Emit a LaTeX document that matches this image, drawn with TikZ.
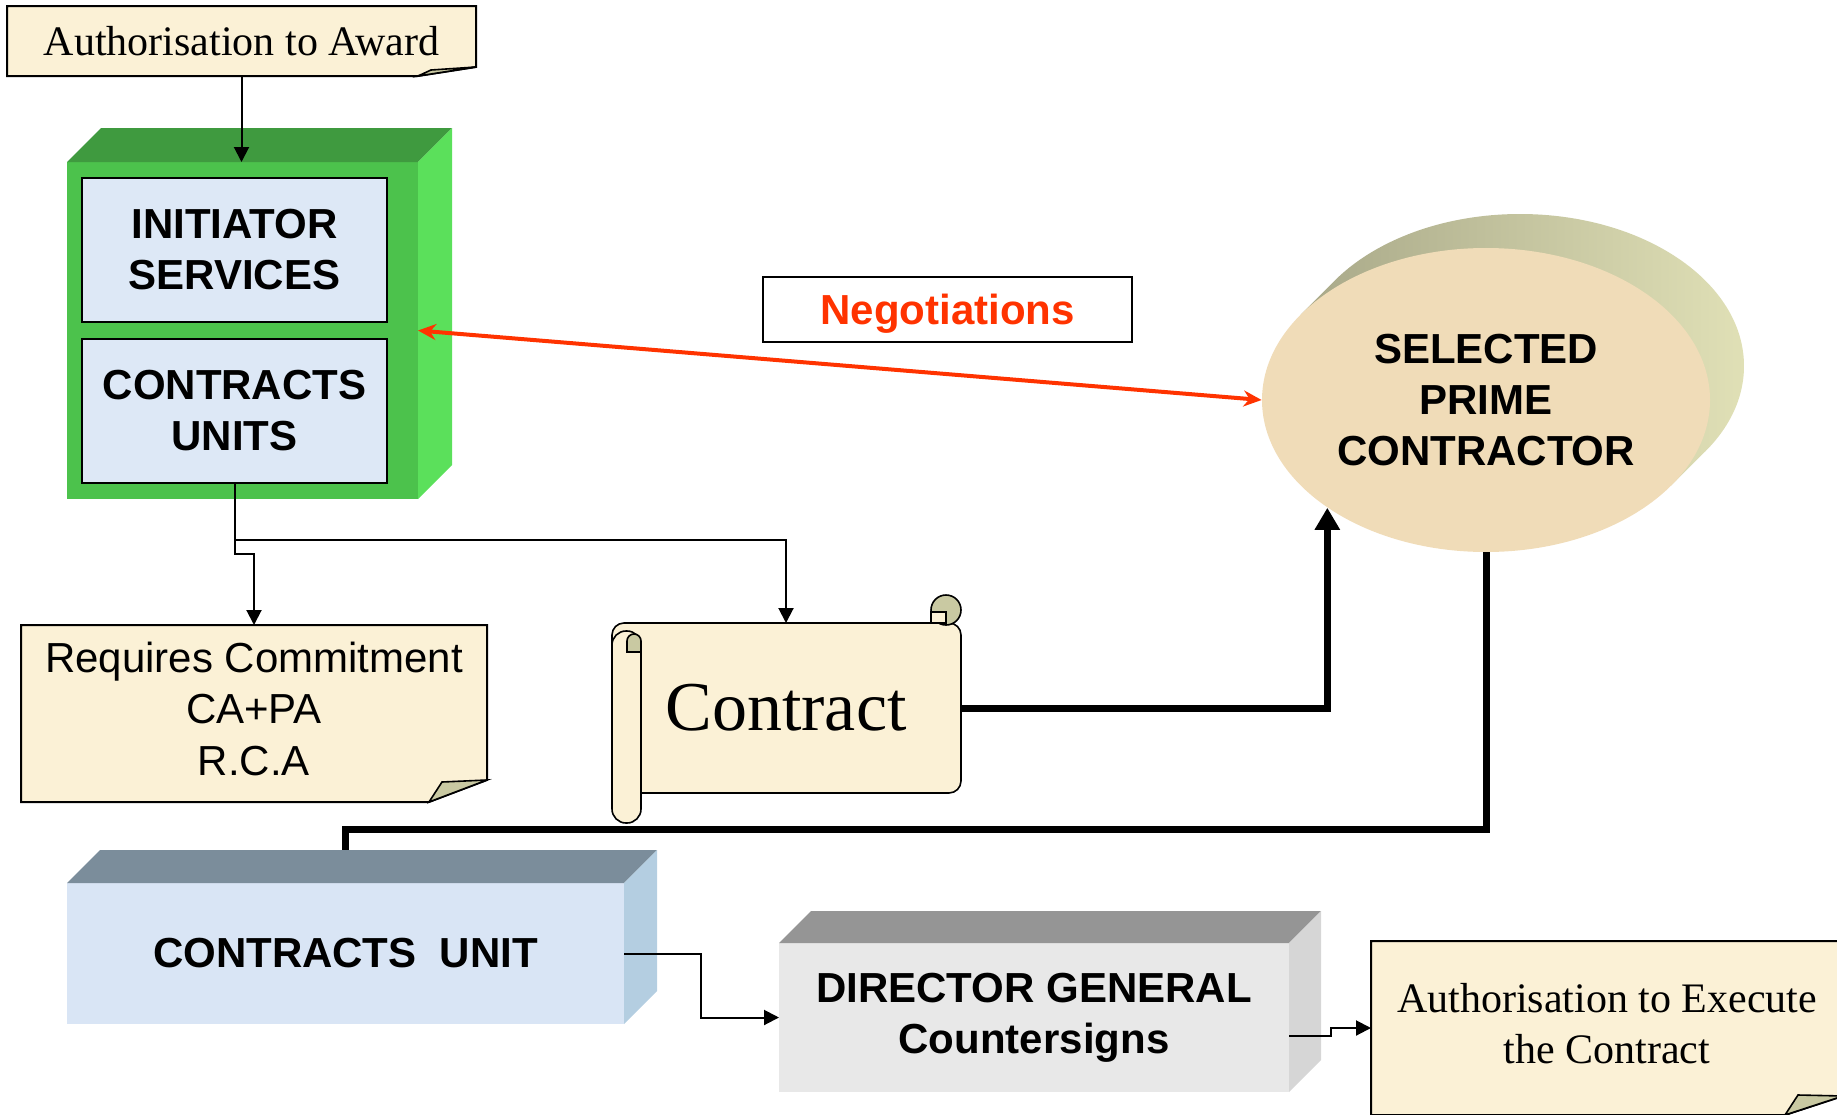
\documentclass[tikz,border=0pt]{standalone}
\usepackage{fontspec}
\setmainfont{Liberation Serif}
\setsansfont{Liberation Sans}
\usetikzlibrary{arrows.meta,shapes.geometric,backgrounds}

% faces of a 3D block: node, depth, top colour, side colour
\newcommand{\blockfaces}[4]{%
  \fill[#3] (#1.north west) -- ++(#2,#2) -- ([shift={(#2,#2)}]#1.north east) -- (#1.north east) -- cycle;
  \fill[#4] (#1.north east) -- ++(#2,#2) -- ([shift={(#2,#2)}]#1.south east) -- (#1.south east) -- cycle;
}

% sheet with a folded corner behind a node: node, fold height, curl height
\newcommand{\notepaper}[3]{%
  \begin{pgfonlayer}{background}
    \filldraw[paper fill] (#1.north west) -- (#1.north east) -- ([yshift=#2]#1.south east)
      -- ([xshift=-29pt]#1.south east) -- (#1.south west) -- cycle;
    \filldraw[fold fill] ([xshift=-29pt]#1.south east) -- ([xshift=-22.5pt,yshift=#3]#1.south east)
      -- ([yshift=#2]#1.south east) -- cycle;
  \end{pgfonlayer}}

% centred lines, lifted a little inside their box
\newcommand{\liftedlines}[2]{\raisebox{#1}{\begin{tabular}{@{}c@{}}#2\end{tabular}}}

\begin{document}
\begin{tikzpicture}[x=0.5pt,y=-0.5pt,line join=miter]
  % Colors
  \definecolor{papercol}{HTML}{FBF1D6}
  \definecolor{foldcol}{HTML}{C9C9A2}
  \definecolor{blueface}{HTML}{DDE8F6}
  \definecolor{greenfront}{HTML}{4CC24C}
  \definecolor{greentop}{HTML}{3F9A3F}
  \definecolor{greenside}{HTML}{5BE05B}
  \definecolor{primefront}{HTML}{F0DCB8}
  \definecolor{olivea}{HTML}{A8A888}
  \definecolor{oliveb}{HTML}{929274}
  \definecolor{olivec}{HTML}{E0E0B6}
  \definecolor{unitfront}{HTML}{D9E5F5}
  \definecolor{unittop}{HTML}{7B8D9B}
  \definecolor{unitside}{HTML}{B4CEE1}
  \definecolor{dgfront}{HTML}{E8E8E8}
  \definecolor{dgtop}{HTML}{959595}
  \definecolor{dgside}{HTML}{D6D6D6}
  \definecolor{negred}{HTML}{FF3300}

  % Styles
  \tikzstyle{plain box}=[rectangle,inner sep=0pt,outer sep=0pt,align=center]
  \tikzstyle{bold label}=[font=\sffamily\bfseries\fontsize{21}{25.5}\selectfont]
  \tikzstyle{note text}=[font=\fontsize{21}{25.5}\selectfont]
  \tikzstyle{paper fill}=[fill=papercol,draw=black,line width=1pt]
  \tikzstyle{fold fill}=[fill=foldcol,draw=black,line width=0.8pt]
  \tikzstyle{inner box}=[plain box,bold label,fill=blueface,draw=black,line width=1pt,
    minimum width=152.5pt,minimum height=72pt]
  \tikzstyle{flow}=[line width=1pt,-{Triangle[length=7.5pt,width=7.5pt]}]
  \tikzstyle{heavy}=[line width=3.5pt]
  \tikzstyle{heavy flow}=[heavy,-{Triangle[length=11pt,width=12pt]}]
  \tikzstyle{negotiate}=[draw=negred,line width=2pt,
    {Stealth[length=9pt,width=8pt]}-{Stealth[length=9pt,width=8pt]}]

  \useasboundingbox (0,0) rectangle (1837,1114);

  % The graphic
  \node[plain box,note text,minimum width=234.5pt,minimum height=35pt] (award) at (241.5,41)
    {Authorisation to Award};
  \notepaper{award}{4.5pt}{3pt}

  \node[plain box,fill=greenfront,minimum width=175.5pt,minimum height=168.5pt] (office) at (242.5,330.5) {};
  \blockfaces{office}{17pt}{greentop}{greenside}
  \node[inner box] (services) at (234.5,250) {INITIATOR\\SERVICES};
  \node[inner box] (units) at (234.5,410.5) {CONTRACTS\\UNITS};

  \node[plain box,bold label,text=negred,draw=black,line width=0.75pt,text depth=0pt,
    minimum width=184.5pt,minimum height=32.5pt] (nego) at (947.5,309.5) {Negotiations};

  \node[ellipse,inner sep=0pt,fill=primefront,align=center,bold label,
    minimum width=224pt,minimum height=152pt] (prime) at (1486,400) {SELECTED\\PRIME\\CONTRACTOR};
  \begin{pgfonlayer}{background}
    \shade[left color=olivea,middle color=oliveb,right color=olivec]
      ([shift={(17pt,17pt)}]prime.center) ellipse [x radius=112pt,y radius=76pt]
      ([shift={(-34.16:112pt and 76pt)}]prime.center)
      -- ([shift={(-34.16:112pt and 76pt)},shift={(17pt,17pt)}]prime.center)
      -- ([shift={(145.84:112pt and 76pt)},shift={(17pt,17pt)}]prime.center)
      -- ([shift={(145.84:112pt and 76pt)}]prime.center) -- cycle;
  \end{pgfonlayer}

  \node[plain box,font=\fontsize{35}{40}\selectfont,minimum width=174pt,minimum height=85pt]
    (contract) at (786,708) {Contract};
  \begin{pgfonlayer}{background}
    \filldraw[paper fill,line width=0.8pt,rounded corners=6pt] (612,623) rectangle (961,793);
    \filldraw[paper fill,line width=0.8pt,rounded corners=7pt] (612,631) rectangle (641,823);
    \filldraw[fold fill] (627,652) -- (627,641) arc[start angle=180,end angle=0,radius=3.5pt]
      -- (641,652) -- cycle;
    \filldraw[fold fill] (946,610) circle[radius=7.5pt];
    \filldraw[paper fill,line width=0.8pt] (931,612) rectangle (946,623);
  \end{pgfonlayer}

  \node[plain box,font=\sffamily\fontsize{21}{25.75}\selectfont,minimum width=233pt,minimum height=88.5pt]
    (commit) at (254,713.5) {\liftedlines{3.5pt}{Requires Commitment\\CA+PA\\R.C.A}};
  \notepaper{commit}{11pt}{10pt}

  \node[plain box,bold label,fill=unitfront,minimum width=278.5pt,minimum height=70.5pt]
    (cunit) at (345.5,953.5) {CONTRACTS\ \ UNIT};
  \blockfaces{cunit}{16.5pt}{unittop}{unitside}

  \node[plain box,bold label,fill=dgfront,minimum width=255pt,minimum height=74.5pt]
    (dg) at (1034,1017.5) {\liftedlines{-1.5pt}{DIRECTOR GENERAL\\Countersigns}};
  \blockfaces{dg}{16pt}{dgtop}{dgside}

  \node[plain box,note text,minimum width=236pt,minimum height=87pt] (execute) at (1607,1028)
    {\liftedlines{2.3pt}{Authorisation to Execute\\the Contract}};
  \notepaper{execute}{9.5pt}{10pt}

  % Connectors
  \draw[flow] (award.south) -- (award.south |- office.north);
  \draw[flow] (units.south) -- ++(0,71) -| (commit.north);
  \draw[flow] (units.south) -- ++(0,57) -| (contract.north);
  \draw[negotiate] (office.east) -- (prime.west);
  \draw[heavy flow] (contract.east) -| (prime.south west);
  \draw[heavy] (prime.south) -- ++(0,277) -| ([yshift=16.5pt]cunit.north);
  \draw[flow] (cunit.east) -- ++(77,0) |- (dg.west);
  \draw[flow] ([yshift=-9.25pt]dg.east) -- ++(42,0) |- (execute.west);
\end{tikzpicture}
\end{document}
